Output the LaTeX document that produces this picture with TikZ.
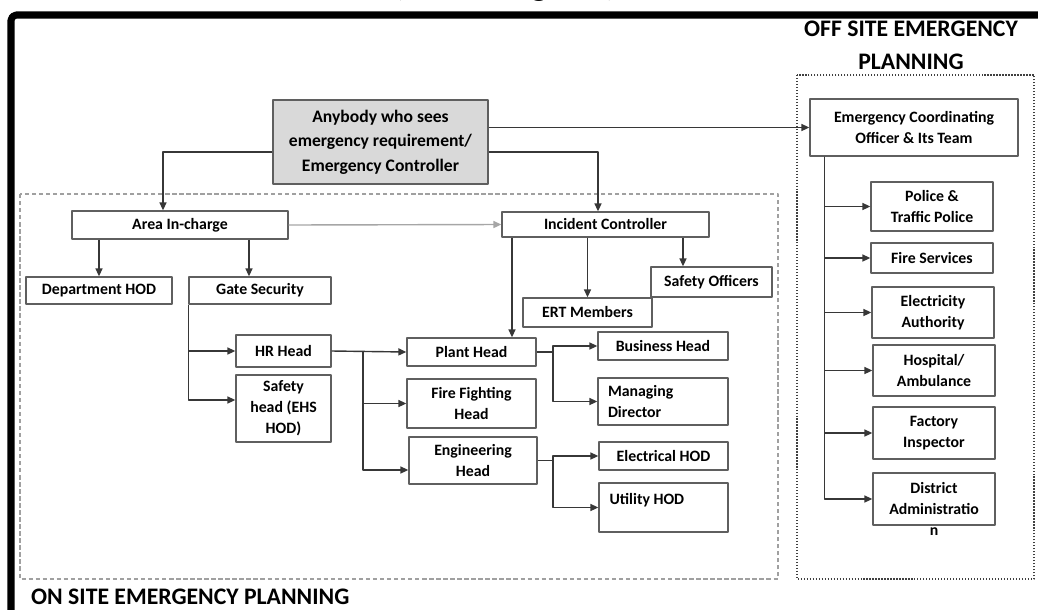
\documentclass[tikz,border=0pt]{standalone}
\usepackage{fontspec}
\setmainfont{Carlito}
\usetikzlibrary{arrows.meta}

\begin{document}
\begin{tikzpicture}[x=0.02cm, y=-0.02cm, line join=round,
    box/.style={draw=boxgray, line width=0.8pt, fill=white, inner sep=2pt, align=center,
        font=\fontsize{9}{12}\selectfont\bfseries},
    link/.style={draw=linegray, line width=0.8pt},
    arr/.style={link, -{Triangle[length=4.5pt, width=4pt]}}]

    % Define custom colors
    \definecolor{boxgray}{RGB}{95,95,95}
    \definecolor{linegray}{RGB}{55,55,55}
    \definecolor{topgray}{RGB}{217,217,217}
    \definecolor{dashgray}{RGB}{160,160,160}

    \useasboundingbox (0,0) rectangle (1038,609);

    % =======================================================
    % FRAME AND ZONES
    % =======================================================
    \draw[line width=4pt, rounded corners=3pt] (11,615) -- (11,15) -- (1045,15);
    \node[anchor=base, font=\fontsize{20}{24}\selectfont\bfseries] (cuttitle) at (505,-5) {(Flow Diagram)};

    \draw[dashgray, line width=0.6pt, dash pattern=on 2.5pt off 1.5pt] (20,194) rectangle (778,579);
    \draw[black!75, line width=0.7pt, densely dotted] (797,75) rectangle (1034,579);

    \node[anchor=west, font=\fontsize{13.5}{16}\selectfont\bfseries] (ontitle) at (25,597) {ON SITE EMERGENCY PLANNING};
    \node[align=center, font=\fontsize{13.5}{19}\selectfont\bfseries] (offtitle) at (911,45) {OFF SITE EMERGENCY\\PLANNING};

    % =======================================================
    % ON SITE
    % =======================================================
    \node[box, fill=topgray, minimum width=4.30cm, minimum height=1.68cm,
        font=\fontsize{10}{14}\selectfont\bfseries] (anybody) at (380.5,142)
        {Anybody who sees\\emergency requirement/\\Emergency Controller};

    \node[box, minimum width=4.32cm, minimum height=0.56cm] (area) at (180,225) {Area In-charge};
    \node[box, minimum width=2.92cm, minimum height=0.54cm] (dept) at (99,290.5) {Department HOD};
    \node[box, minimum width=2.84cm, minimum height=0.54cm] (gate) at (260,290.5) {Gate Security};
    \node[box, minimum width=1.90cm, minimum height=0.64cm] (hr) at (283.5,351) {HR Head};
    \node[box, minimum width=1.90cm, minimum height=1.34cm] (safehead) at (283.5,408.5) {Safety\\head (EHS\\HOD)};

    \node[box, minimum width=4.14cm, minimum height=0.50cm] (ic) at (605.5,224.5) {Incident Controller};
    \node[box, minimum width=2.42cm, minimum height=0.60cm] (safeoff) at (711.5,282) {Safety Officers};
    \node[box, minimum width=2.58cm, minimum height=0.58cm] (ert) at (587.5,312.5) {ERT Members};

    \node[box, minimum width=2.58cm, minimum height=0.56cm] (plant) at (471.5,352) {Plant Head};
    \node[box, minimum width=2.58cm, minimum height=0.98cm] (fire) at (471.5,403.5) {Fire Fighting\\Head};
    \node[box, minimum width=2.56cm, minimum height=0.94cm] (eng) at (473,460.5) {Engineering\\Head};

    \node[box, minimum width=2.60cm, minimum height=0.56cm] (business) at (663,346) {Business Head};
    \node[box, minimum width=2.60cm, minimum height=0.94cm, text width=2.2cm, align=left] (md) at (663,401.5) {Managing\\Director};
    \node[box, minimum width=2.58cm, minimum height=0.56cm] (elec) at (663.5,456) {Electrical HOD};
    \node[box, minimum width=2.58cm, minimum height=0.98cm] (util) at (663.5,507.5) {};
    \node[anchor=west, inner sep=0pt, font=\fontsize{9}{12}\selectfont\bfseries] (utiltext)
        at ([xshift=0.22cm, yshift=-0.36cm]util.north west) {Utility HOD};

    % =======================================================
    % OFF SITE
    % =======================================================
    \node[box, minimum width=4.16cm, minimum height=1.14cm] (eco) at (914,127.5) {Emergency Coordinating\\Officer \& Its Team};
    \node[box, minimum width=2.44cm, minimum height=0.98cm] (police) at (932,206.5) {Police \&\\Traffic Police};
    \node[box, minimum width=2.44cm, minimum height=0.60cm] (firesvc) at (932,258) {Fire Services};
    \node[box, minimum width=2.44cm, minimum height=1.02cm] (elecauth) at (933,312.5) {Electricity\\Authority};
    \node[box, minimum width=2.44cm, minimum height=1.02cm] (hospital) at (934,370.5) {Hospital/\\Ambulance};
    \node[box, minimum width=2.44cm, minimum height=1.04cm] (factory) at (934,433) {Factory\\Inspector};
    \node[box, minimum width=2.44cm, minimum height=1.04cm] (district) at (934,499) {};
    \node[anchor=north, inner sep=0pt, align=center, font=\fontsize{9}{12}\selectfont\bfseries] (districttext)
        at ([yshift=-0.2cm]district.north) {District\\Administratio\\n};

    % =======================================================
    % CONNECTORS
    % =======================================================
    % 1. From the top box
    \coordinate (areain) at ([xshift=-0.34cm]area.north);
    \coordinate (icin) at ([xshift=-0.15cm]ic.north);
    \draw[arr] ([yshift=-0.2cm]anybody.west) -| (areain);
    \draw[arr] ([yshift=-0.2cm]anybody.east) -| (icin);
    \draw[arr] (anybody.east |- eco.west) -- (eco.west);

    % 2. Area in-charge branch
    \coordinate (gatein) at ([xshift=-0.22cm]gate.north);
    \draw[arr] (area.south -| dept.north) -- (dept.north);
    \draw[arr] (area.south -| gatein) -- (gatein);
    \draw[arr, draw=gray!70] (area.east) -- (ic.west);
    \draw[arr] (gate.south west) |- (hr.west);
    \draw[arr] (gate.south west) |- ([yshift=0.17cm]safehead.west);

    % 3. HR head branch
    \coordinate (hrfork) at (363,351);
    \draw[arr] (hr.east) -- (plant.west);
    \draw[arr] (hrfork) |- (fire.west);
    \draw[arr] (hrfork) |- ([yshift=-0.19cm]eng.west);

    % 4. Incident controller branch
    \coordinate (plantin) at ([xshift=0.81cm]plant.north);
    \coordinate (soin) at ([xshift=-0.57cm]safeoff.north);
    \draw[arr] (ic.south -| plantin) -- (plantin);
    \draw[arr] (ic.south -| ert.north) -- (ert.north);
    \draw[arr] (ic.south -| soin) -- (soin);

    % 5. Plant head and engineering head branches
    \coordinate (plantfork) at (553,352);
    \coordinate (engfork) at (553,460.5);
    \draw[link] (plant.east) -- (plantfork);
    \draw[arr] (plantfork) |- (business.west);
    \draw[arr] (plantfork) |- (md.west);
    \draw[link] (eng.east) -- (engfork);
    \draw[arr] (engfork) |- (elec.west);
    \draw[arr] (engfork) |- (util.west);

    % 6. Off site branch
    \coordinate (ecofoot) at ([xshift=0.3cm]eco.south west);
    \foreach \n in {police,firesvc,elecauth,hospital,factory,district} {
        \draw[arr] (ecofoot) |- (\n.west);
    }

\end{tikzpicture}
\end{document}
